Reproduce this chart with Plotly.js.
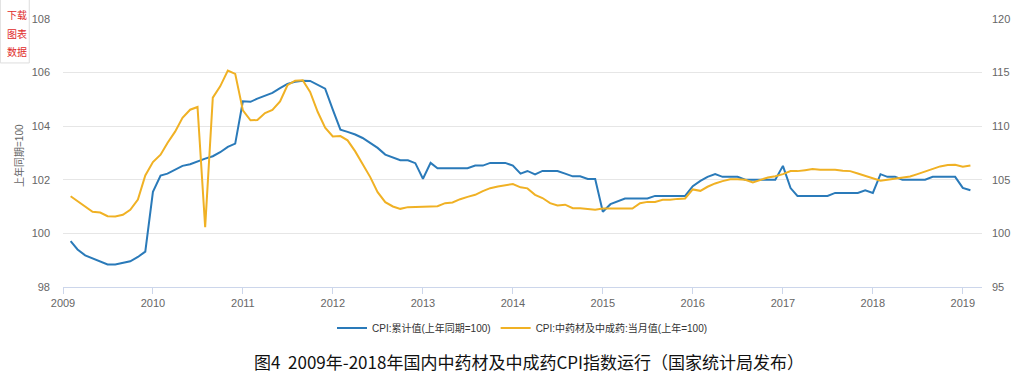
<!DOCTYPE html>
<html>
<head>
<meta charset="utf-8">
<script src="https://cdn.plot.ly/plotly-3.0.1.min.js"></script>
<style>
html,body{margin:0;padding:0;background:#fff;}
#chart{width:1020px;height:380px;}
</style>
</head>
<body>
<div id="chart"></div>
<script>
// Monthly series, Feb 2009 – Feb 2019
var startYear = 2009, startMonth = 2, nMonths = 121;
var months = [];
for (var k = 0; k < nMonths; k++) {
  var m = startMonth - 1 + k;
  var y = startYear + Math.floor(m / 12);
  var mm = (m % 12) + 1;
  months.push(y + '-' + (mm < 10 ? '0' + mm : mm) + '-01');
}

var seriesNames = ['CPI:累计值(上年同期=100)', 'CPI:中药材及中成药:当月值(上年=100)'];

// CPI cumulative (left axis)
var cpiCumulative = [
  99.71, 99.40, 99.18, 99.06, 98.94, 98.84, 98.84, 98.90, 98.96, 99.12, 99.32,
  101.55, 102.16, 102.23, 102.38, 102.52, 102.58, 102.69, 102.79, 102.88, 103.03, 103.23, 103.35,
  104.93, 104.91, 105.03, 105.14, 105.24, 105.42, 105.58, 105.66, 105.70, 105.69, 105.55, 105.40,
  104.62, 103.87, 103.79, 103.69, 103.56, 103.38, 103.19, 102.94, 102.83, 102.73, 102.73, 102.62,
  102.04, 102.63, 102.43, 102.43, 102.43, 102.43, 102.43, 102.53, 102.53, 102.63, 102.63, 102.63,
  102.53, 102.23, 102.33, 102.20, 102.33, 102.33, 102.33, 102.23, 102.13, 102.13, 102.03, 102.03,
  100.81, 101.09, 101.19, 101.30, 101.30, 101.30, 101.30, 101.40, 101.40, 101.40, 101.40, 101.40,
  101.76, 101.96, 102.11, 102.21, 102.11, 102.11, 102.11, 102.00, 102.00, 102.00, 102.00, 102.00,
  102.52, 101.69, 101.40, 101.40, 101.40, 101.40, 101.40, 101.51, 101.51, 101.51, 101.51, 101.61,
  101.51, 102.21, 102.11, 102.11, 102.00, 102.00, 102.00, 102.00, 102.11, 102.11, 102.11, 102.11,
  101.70, 101.61
];

// CPI Chinese herbal medicine, monthly (right axis)
var cpiHerbal = [
  103.47, 103.01, 102.45, 102.01, 101.95, 101.60, 101.57, 101.73, 102.20, 103.16, 105.40,
  106.65, 107.34, 108.43, 109.49, 110.79, 111.54, 111.79, 100.58, 112.66, 113.72, 115.19, 114.88,
  111.48, 110.55, 110.58, 111.23, 111.51, 112.32, 113.82, 114.25, 114.28, 113.19, 111.32, 109.86,
  109.05, 109.08, 108.68, 107.65, 106.50, 105.25, 103.85, 102.91, 102.51, 102.29, 102.45, 102.45,
  102.51, 102.51, 102.54, 102.82, 102.88, 103.19, 103.41, 103.60, 103.94, 104.22, 104.38, 104.50,
  104.60, 104.30, 104.20, 103.60, 103.30, 102.82, 102.61, 102.68, 102.35, 102.35, 102.27, 102.21,
  102.33, 102.35, 102.32, 102.32, 102.32, 102.82, 102.94, 102.94, 103.13, 103.13, 103.22, 103.26,
  104.10, 103.97, 104.35, 104.66, 104.88, 105.06, 105.06, 105.00, 104.75, 104.97, 105.22, 105.34,
  105.53, 105.81, 105.81, 105.90, 106.00, 105.93, 105.93, 105.93, 105.84, 105.81, 105.59, 105.37,
  105.19, 104.91, 105.00, 105.12, 105.22, 105.31, 105.53, 105.75, 106.00, 106.25, 106.37, 106.40,
  106.22, 106.34
];

var leftTicks = [98, 100, 102, 104, 106, 108];
var rightTicks = [95, 100, 105, 110, 115, 120];
var yearTicks = ['2009-01-01','2010-01-01','2011-01-01','2012-01-01','2013-01-01','2014-01-01',
                 '2015-01-01','2016-01-01','2017-01-01','2018-01-01','2019-01-01'];
var yearLabels = ['2009','2010','2011','2012','2013','2014','2015','2016','2017','2018','2019'];

var chartTitle = '图4\u00a0\u00a02009年-2018年国内中药材及中成药CPI指数运行（国家统计局发布）';
var yTitle = '上年同期=100';

var baseFont = 'Liberation Sans, Arial, Noto Sans CJK SC, sans-serif';

var traces = [
  {x: months, y: cpiCumulative, name: seriesNames[0], type: 'scatter', mode: 'lines',
   line: {color: '#2a7ab9', width: 2}, yaxis: 'y'},
  {x: months, y: cpiHerbal, name: seriesNames[1], type: 'scatter', mode: 'lines',
   line: {color: '#f0b124', width: 2}, yaxis: 'y2'}
];

var layout = {
  width: 1020, height: 380,
  margin: {l: 63, r: 38, t: 19, b: 93},
  paper_bgcolor: '#fff', plot_bgcolor: '#fff',
  font: {family: baseFont, color: '#666', size: 11},
  showlegend: true,
  legend: {orientation: 'h', x: 0.5, xanchor: 'center', y: -0.153, yanchor: 'middle',
           font: {size: 10, color: '#333', family: baseFont}, itemwidth: 30, tracegroupgap: 0},
  xaxis: {
    type: 'date', range: ['2009-01-01', '2019-03-20'],
    tickvals: yearTicks, ticktext: yearLabels,
    showgrid: false, zeroline: false,
    showline: true, linecolor: '#ccd6eb', linewidth: 1,
    ticks: 'outside', ticklen: 6, tickcolor: '#ccd6eb', tickwidth: 1,
    tickfont: {size: 11, color: '#666'}
  },
  yaxis: {
    range: [98, 108], tickvals: leftTicks,
    showgrid: true, gridcolor: '#e6e6e6', gridwidth: 1,
    zeroline: false, showline: false, ticks: '',
    ticklabelstandoff: 12,
    tickfont: {size: 11, color: '#666'}
  },
  yaxis2: {
    range: [95, 120], tickvals: rightTicks,
    overlaying: 'y', side: 'right',
    showgrid: false, zeroline: false, showline: false, ticks: '',
    ticklabelstandoff: 9,
    tickfont: {size: 11, color: '#666'}
  },
  shapes: [
    {type: 'rect', xref: 'paper', yref: 'paper',
     x0: -0.0682, x1: -0.0367, y0: 0.836, y1: 1.075,
     line: {color: '#dddddd', width: 1}, fillcolor: 'rgba(255,255,255,0)'}
  ],
  annotations: [
    {text: yTitle, xref: 'paper', yref: 'paper', x: -0.0486, y: 0.49,
     xanchor: 'center', yanchor: 'middle',
     textangle: -90, showarrow: false, font: {size: 10, color: '#666', family: baseFont}},
    {text: '下载', xref: 'paper', yref: 'paper', x: -0.0503, y: (287 - 15) / 268,
     xanchor: 'center', yanchor: 'middle',
     showarrow: false, font: {size: 10, color: '#e02a2a', family: 'Noto Sans CJK SC'}},
    {text: '图表', xref: 'paper', yref: 'paper', x: -0.0503, y: (287 - 33) / 268,
     xanchor: 'center', yanchor: 'middle',
     showarrow: false, font: {size: 10, color: '#e02a2a', family: 'Noto Sans CJK SC'}},
    {text: '数据', xref: 'paper', yref: 'paper', x: -0.0503, y: (287 - 52) / 268,
     xanchor: 'center', yanchor: 'middle',
     showarrow: false, font: {size: 10, color: '#e02a2a', family: 'Noto Sans CJK SC'}},
    {text: chartTitle, xref: 'paper', yref: 'paper', x: 0.507, y: (287 - 361) / 268,
     xanchor: 'center', yanchor: 'middle',
     showarrow: false, font: {size: 17, color: '#111', family: 'Noto Sans CJK SC'}}
  ]
};

Plotly.newPlot('chart', traces, layout, {displayModeBar: false, staticPlot: true});
</script>
</body>
</html>
